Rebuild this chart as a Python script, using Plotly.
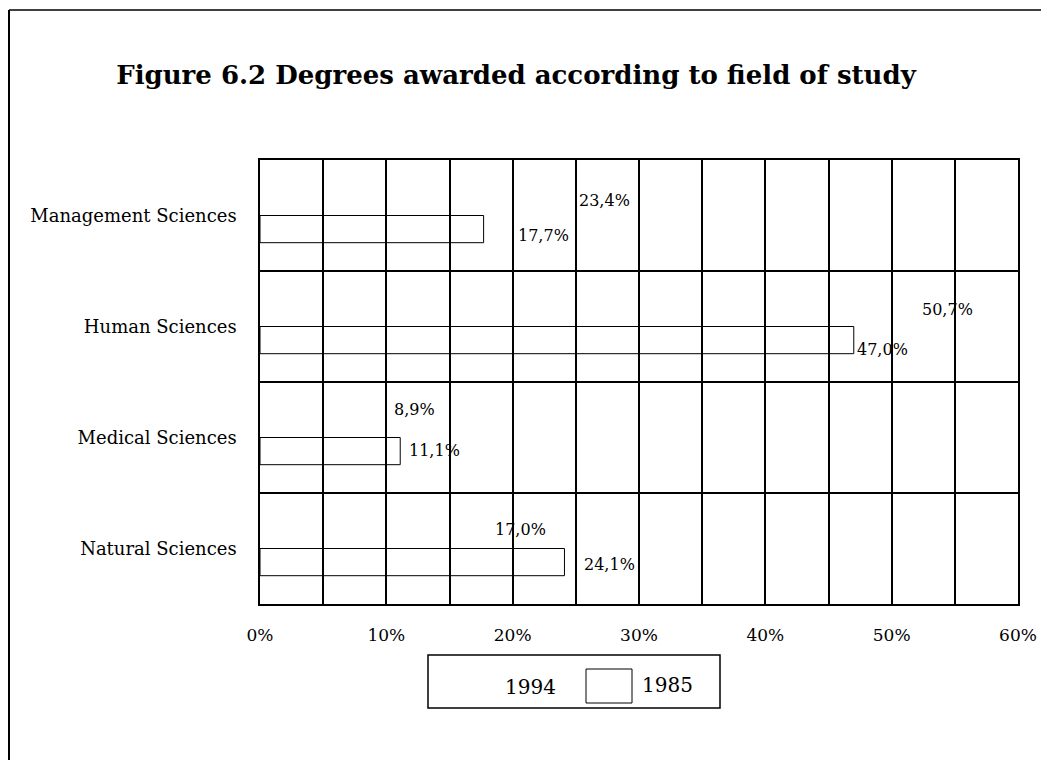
import plotly.graph_objects as go

categories = ["Management Sciences", "Human Sciences", "Medical Sciences", "Natural Sciences"]
values_1994 = [23.4, 50.7, 8.9, 17.0]
values_1985 = [17.7, 47.0, 11.1, 24.1]
labels_1994 = ["23,4%", "50,7%", "8,9%", "17,0%"]
labels_1985 = ["17,7%", "47,0%", "11,1%", "24,1%"]
tick_vals = [0, 10, 20, 30, 40, 50, 60]
tick_text = ["0%", "10%", "20%", "30%", "40%", "50%", "60%"]

# label pixel offsets (style)
shift_1994 = [(21, 15), (19, 17), (20, 28), (18, 19)]
shift_1985 = [(32, -20), (1, -23), (7, -13), (18, -16)]

O = 8  # page body margin
W, H = 1049 - O, 760 - O
L, T = 260 - O, 160 - O
R = W - (1018 - O)
B = H - (604 - O)
pw, ph = W - L - R, H - T - B

def px(xp):
    return (xp - O - L) / pw

def py(yp):
    return (H - B - (yp - O)) / ph

serif = "DejaVu Serif"

fig = go.Figure()
fig.add_trace(go.Bar(
    name="1994", y=categories, x=values_1994, orientation="h",
    marker=dict(color="rgba(0,0,0,0)", line=dict(width=0)),
))
fig.add_trace(go.Bar(
    name="1985", y=categories, x=values_1985, orientation="h",
    marker=dict(color="rgba(0,0,0,0)", line=dict(color="black", width=1)),
))

for cat, v, t, (dx, dy) in zip(categories, values_1994, labels_1994, shift_1994):
    fig.add_annotation(x=v, y=cat, text=t, showarrow=False, xanchor="left",
                       yanchor="middle", xshift=dx, yshift=dy,
                       font=dict(family=serif, size=16, color="black"))
for cat, v, t, (dx, dy) in zip(categories, values_1985, labels_1985, shift_1985):
    fig.add_annotation(x=v, y=cat, text=t, showarrow=False, xanchor="left",
                       yanchor="middle", xshift=dx, yshift=dy,
                       font=dict(family=serif, size=16, color="black"))

# outer frame (left and top)
fig.add_shape(type="line", xref="paper", yref="paper", x0=px(9), x1=px(9),
              y0=py(10), y1=py(H + 20), line=dict(color="black", width=2))
fig.add_shape(type="line", xref="paper", yref="paper", x0=px(9), x1=px(W + 20),
              y0=py(10), y1=py(10), line=dict(color="black", width=1.5))

# manual legend
fig.add_shape(type="rect", xref="paper", yref="paper", x0=px(428), x1=px(720),
              y0=py(655), y1=py(708), line=dict(color="black", width=1.5))
fig.add_shape(type="rect", xref="paper", yref="paper", x0=px(586), x1=px(632),
              y0=py(669), y1=py(703), line=dict(color="black", width=1))
fig.add_annotation(xref="paper", yref="paper", x=px(530), y=py(687), text="1994",
                   showarrow=False, xanchor="center", yanchor="middle",
                   font=dict(family=serif, size=20, color="black"))
fig.add_annotation(xref="paper", yref="paper", x=px(640), y=py(685), text="1985",
                   showarrow=False, xanchor="left", yanchor="middle",
                   font=dict(family=serif, size=20, color="black"))

fig.update_layout(
    width=W, height=H,
    margin=dict(l=L, r=R, t=T, b=B),
    paper_bgcolor="white", plot_bgcolor="white",
    barmode="group", bargap=0.51, bargroupgap=0,
    showlegend=False,
    title=dict(text="<b>Figure 6.2 Degrees awarded according to field of study</b>",
               x=px(516), xref="paper", xanchor="center",
               y=1 - (75 - O) / H, yref="container", yanchor="middle",
               font=dict(family=serif, size=26, color="black")),
    xaxis=dict(range=[0, 60], tickvals=tick_vals, ticktext=tick_text,
               showgrid=True, gridcolor="black", gridwidth=1.5,
               minor=dict(dtick=5, tick0=0, showgrid=True, gridcolor="black", gridwidth=1.5),
               showline=True, linecolor="black", linewidth=1.5, mirror=True,
               zeroline=False, ticks="", ticklabelstandoff=15,
               tickfont=dict(family=serif, size=17, color="black")),
    yaxis=dict(type="category", categoryorder="array", categoryarray=categories,
               autorange="reversed", tickson="boundaries",
               showgrid=True, gridcolor="black", gridwidth=1.5,
               showline=True, linecolor="black", linewidth=1.5, mirror=True,
               ticks="", ticklabelstandoff=18,
               tickfont=dict(family=serif, size=18, color="black")),
)

fig.write_html("out.html")
